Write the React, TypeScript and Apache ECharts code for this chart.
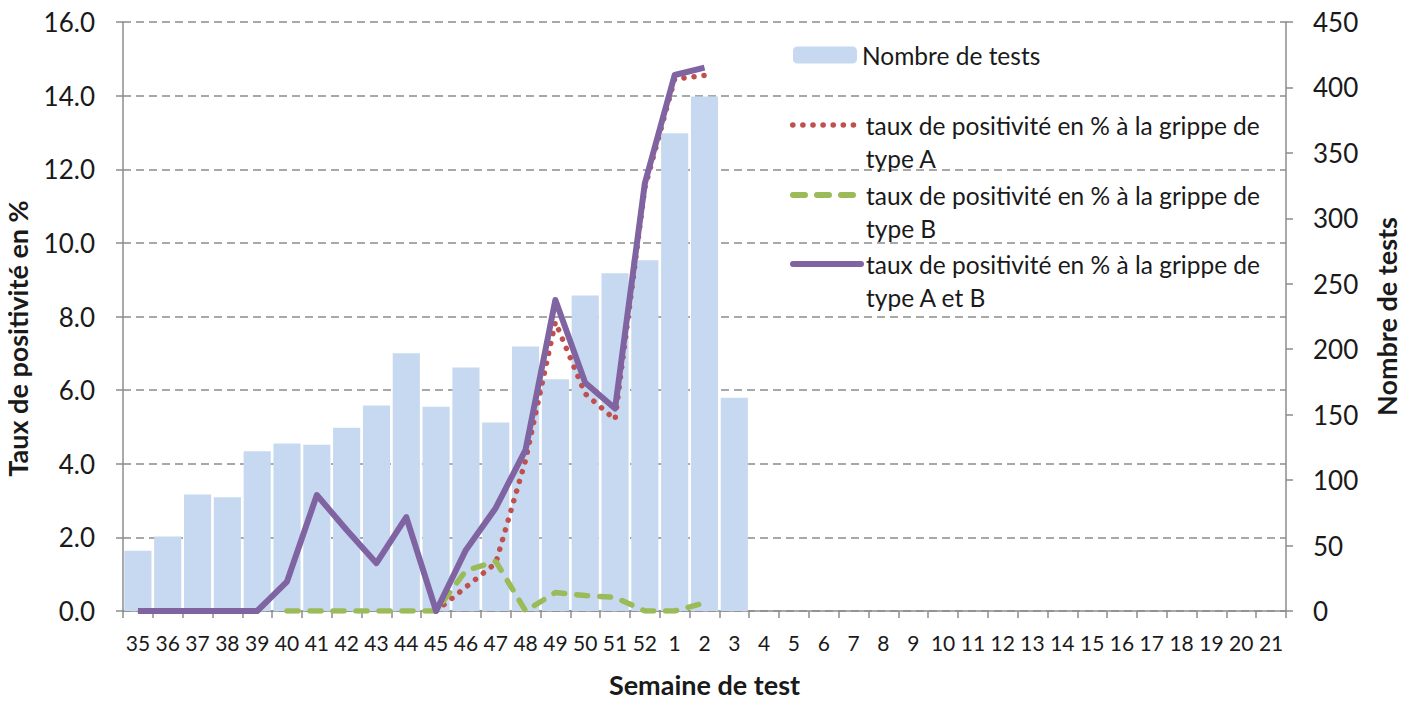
import React, { useEffect, useRef } from "react";
import * as echarts from "echarts";

const categories = [
  "35", "36", "37", "38", "39", "40", "41", "42", "43", "44", "45", "46", "47", "48", "49", "50", "51", "52",
  "1", "2", "3", "4", "5", "6", "7", "8", "9", "10", "11", "12", "13", "14", "15", "16", "17", "18", "19", "20", "21",
];

const nombreTests = [46, 57, 89, 87, 122, 128, 127, 140, 157, 197, 156, 186, 144, 202, 177, 241, 258, 268, 365, 393, 163];

const tauxA = [null, null, null, null, null, null, null, null, null, null, 0, 0.65, 1.3, 4.1, 7.85, 5.9, 5.2, 11.5, 14.45, 14.55];

const tauxB = [null, null, null, null, null, 0, 0, 0, 0, 0, 0, 1.1, 1.35, 0, 0.5, 0.42, 0.37, 0, 0, 0.22];

const tauxAB = [0, 0, 0, 0, 0, 0.8, 3.15, 2.2, 1.3, 2.55, 0, 1.66, 2.8, 4.38, 8.45, 6.2, 5.5, 11.62, 14.56, 14.76];

const leftTicks = { min: 0, max: 16, interval: 2 };
const rightTicks = { min: 0, max: 450, interval: 50 };

const NAME_BAR = "Nombre de tests";
const NAME_A = "taux de positivité en % à la grippe de type A";
const NAME_B = "taux de positivité en % à la grippe de type B";
const NAME_AB = "taux de positivité en % à la grippe de type A et B";

const FONT = 'Lato, "Noto Sans", sans-serif';
const TXT = "#1a1a1a";
const AXIS = "#8c8c8c";

const RED = "#c0504d";
const GREEN = "#9bbb59";
const PURPLE = "#8064a2";
const BLUE = "#c6d9f0";

export default function App() {
  const ref = useRef<HTMLDivElement>(null);
  useEffect(() => {
    if (!ref.current) return;
    const chart = echarts.init(ref.current, undefined, { renderer: "svg" });
    const legendText = {
      fontSize: 24.5,
      lineHeight: 33,
      color: TXT,
      fontFamily: FONT,
    };
    const wrap = (n: string) => "\n" + n.replace(" de type", " de\ntype");
    const hiddenSymbol = { color: "rgba(0,0,0,0)", borderWidth: 0, opacity: 0 };
    chart.setOption({
      animation: false,
      backgroundColor: "#ffffff",
      textStyle: { fontFamily: FONT },
      grid: { left: 123, right: 135, top: 22, bottom: 93, containLabel: false, outerBoundsMode: "none" },
      legend: [
        {
          data: [NAME_BAR], left: 793, top: 38.5, padding: 0, itemWidth: 64, itemHeight: 17,
          textStyle: legendText, selectedMode: false,
        },
        {
          data: [NAME_A], left: 790, top: 75.5, padding: 0, itemWidth: 68, itemHeight: 18,
          formatter: wrap, textStyle: legendText, selectedMode: false,
          itemStyle: hiddenSymbol,
          lineStyle: { color: RED, width: 5.5, type: [0.1, 10], cap: "round" },
        },
        {
          data: [NAME_B], left: 790, top: 145.5, padding: 0, itemWidth: 68, itemHeight: 18,
          formatter: wrap, textStyle: legendText, selectedMode: false,
          itemStyle: hiddenSymbol,
          lineStyle: { color: GREEN, width: 6, type: [12, 12], cap: "round" },
        },
        {
          data: [NAME_AB], left: 790, top: 214.5, padding: 0, itemWidth: 68, itemHeight: 18,
          formatter: wrap, textStyle: legendText, selectedMode: false,
          itemStyle: hiddenSymbol,
          lineStyle: { color: PURPLE, width: 6, cap: "round" },
        },
      ],
      xAxis: {
        type: "category",
        data: categories,
        boundaryGap: true,
        name: "Semaine de test",
        nameLocation: "middle",
        nameGap: 60,
        nameTextStyle: { fontSize: 27, fontWeight: "bold", color: TXT, fontFamily: FONT },
        axisLine: { lineStyle: { color: AXIS, width: 1.5 } },
        axisTick: { show: true, length: 7, lineStyle: { color: AXIS, width: 1.5 } },
        axisLabel: { fontSize: 21, color: TXT, margin: 21, interval: 0, fontFamily: FONT },
      },
      yAxis: [
        {
          type: "value",
          ...leftTicks,
          name: "Taux de positivité en %",
          nameLocation: "middle",
          nameGap: 92,
          nameTextStyle: { fontSize: 27, fontWeight: "bold", color: TXT, fontFamily: FONT, padding: [0, 44, 0, 0] },
          axisLine: { show: true, lineStyle: { color: AXIS, width: 1.5 } },
          axisTick: { show: true, length: 7, lineStyle: { color: AXIS, width: 1.5 } },
          axisLabel: { fontSize: 26, color: TXT, margin: 28, fontFamily: FONT, formatter: (v: number) => v.toFixed(1) },
          splitLine: { show: true, lineStyle: { color: AXIS, width: 1.5, type: [8, 5] } },
        },
        {
          type: "value",
          ...rightTicks,
          position: "right",
          name: "Nombre de tests",
          nameLocation: "middle",
          nameGap: 87,
          nameRotate: 90,
          nameTextStyle: { fontSize: 27, fontWeight: "bold", color: TXT, fontFamily: FONT },
          axisLine: { show: true, lineStyle: { color: AXIS, width: 1.5 } },
          axisTick: { show: true, length: 7, lineStyle: { color: AXIS, width: 1.5 } },
          axisLabel: { fontSize: 26, color: TXT, margin: 27, fontFamily: FONT },
          splitLine: { show: false },
        },
      ],
      series: [
        {
          name: NAME_BAR,
          type: "bar",
          yAxisIndex: 1,
          data: nombreTests,
          barCategoryGap: "9%",
          itemStyle: { color: BLUE },
        },
        {
          name: NAME_A,
          type: "line",
          yAxisIndex: 0,
          data: tauxA,
          symbol: "none",
          itemStyle: { color: RED },
          lineStyle: { color: RED, width: 5.5, type: [0.1, 10], cap: "round" },
        },
        {
          name: NAME_B,
          type: "line",
          yAxisIndex: 0,
          data: tauxB,
          symbol: "none",
          itemStyle: { color: GREEN },
          lineStyle: { color: GREEN, width: 5.5, type: [11, 12], cap: "round" },
        },
        {
          name: NAME_AB,
          type: "line",
          yAxisIndex: 0,
          data: tauxAB,
          symbol: "none",
          itemStyle: { color: PURPLE },
          lineStyle: { color: PURPLE, width: 6, join: "round" },
        },
      ],
    });
    return () => chart.dispose();
  }, []);
  return <div ref={ref} style={{ width: 1421, height: 704, margin: -8 }} />;
}
